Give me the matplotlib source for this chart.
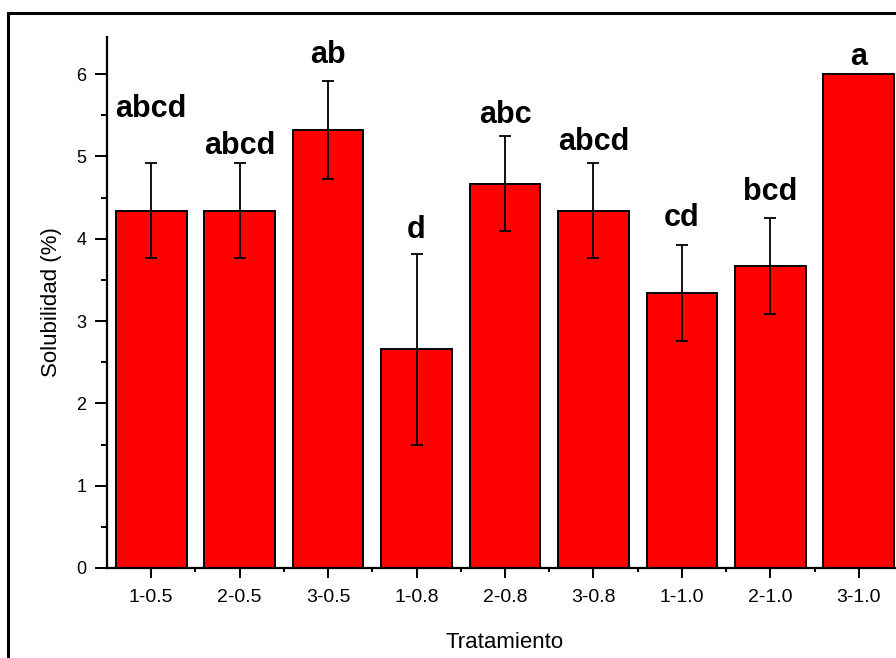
import matplotlib.pyplot as plt
import matplotlib.ticker as mticker
from matplotlib.patches import Rectangle
import numpy as np

# --- Data ---
tratamientos = ["1-0.5", "2-0.5", "3-0.5", "1-0.8", "2-0.8", "3-0.8", "1-1.0", "2-1.0", "3-1.0"]
solubilidad = [4.34, 4.34, 5.32, 2.66, 4.67, 4.34, 3.34, 3.67, 6.00]
error = [0.58, 0.58, 0.60, 1.16, 0.58, 0.58, 0.58, 0.58, 0.0]
letras = ["abcd", "abcd", "ab", "d", "abc", "abcd", "cd", "bcd", "a"]
letra_y = [5.58, 5.13, 6.23, 4.11, 5.50, 5.18, 4.25, 4.57, 6.21]

plt.rcParams["font.family"] = ["Liberation Sans", "DejaVu Sans"]

fig = plt.figure(figsize=(8.96, 6.58), dpi=100)
ax = fig.add_axes([107 / 896, 90 / 658, (903 - 107) / 896, (568 - 37) / 658])

x = np.arange(len(tratamientos))
ax.bar(x, solubilidad, width=0.8, color="#ff0000", edgecolor="black", linewidth=1.4, zorder=2)
ax.errorbar(x, solubilidad, yerr=error, fmt="none", ecolor="black",
            elinewidth=1.3, capsize=4.5, capthick=1.3, zorder=3)

for xi, lab, ly in zip(x, letras, letra_y):
    ax.text(xi, ly, lab, ha="center", va="center", fontsize=22, fontweight="bold")

ax.set_xlim(-0.5, 8.5)
ax.set_ylim(0, 6.45)
ax.set_xticks(x)
ax.set_xticklabels(tratamientos, fontsize=14)
ax.xaxis.set_minor_locator(mticker.FixedLocator(x[:-1] + 0.5))
ax.yaxis.set_major_locator(mticker.MultipleLocator(1))
ax.yaxis.set_minor_locator(mticker.MultipleLocator(0.5))
ax.tick_params(axis="y", which="major", length=9, width=1.4, labelsize=13, pad=6)
ax.tick_params(axis="y", which="minor", length=4, width=1.4)
ax.tick_params(axis="x", which="major", length=7, width=1.4, pad=8)
ax.tick_params(axis="x", which="minor", length=3, width=1.4)

for s in ["top", "right"]:
    ax.spines[s].set_visible(False)
for s in ["left", "bottom"]:
    ax.spines[s].set_linewidth(1.6)

ax.set_ylabel("Solubilidad (%)", fontsize=16, labelpad=10)
ax.set_xlabel("Tratamiento", fontsize=16, labelpad=19)

# outer frame of the original figure
fig.patches.append(Rectangle((8 / 896, -0.1), 1.1, (658 - 13) / 658 + 0.1,
                             transform=fig.transFigure, fill=False,
                             edgecolor="black", linewidth=2.2, clip_on=False))

fig.savefig("out.png", dpi=100)
